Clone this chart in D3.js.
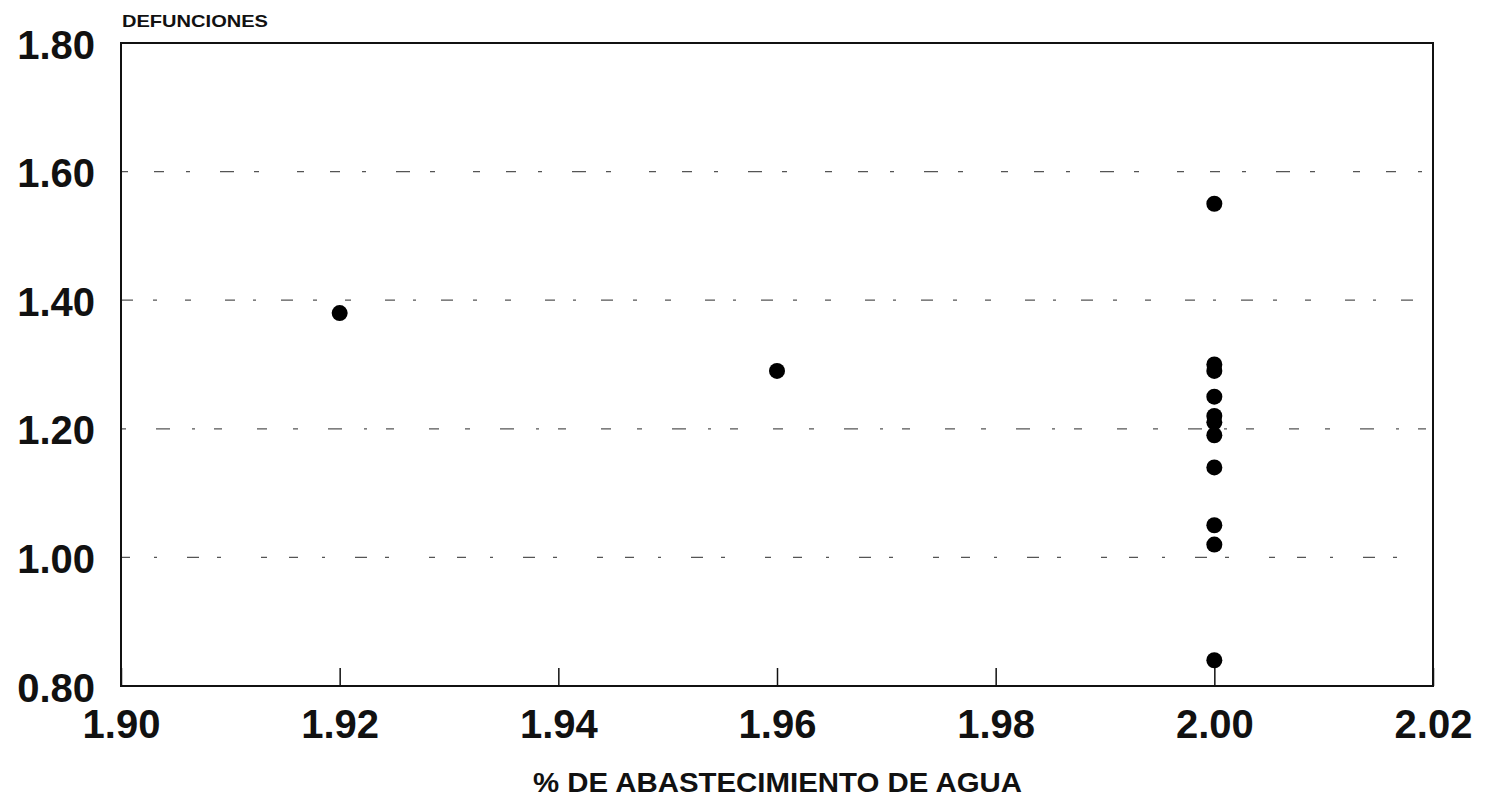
<!DOCTYPE html>
<html>
<head>
<meta charset="utf-8">
<script src="https://cdn.jsdelivr.net/npm/d3@7"></script>
<style>
html,body{margin:0;padding:0;background:#fff;}
svg{display:block;}
text{font-family:"Liberation Sans",Arial,sans-serif;font-weight:bold;fill:#111;}
</style>
</head>
<body>
<svg id="chart" width="1486" height="801"></svg>
<script>
// Data
const xValues = [1.92, 1.96, 2.00, 2.00, 2.00, 2.00, 2.00, 2.00, 2.00, 2.00, 2.00, 2.00, 2.00];
const yValues = [1.38, 1.29, 1.55, 1.30, 1.29, 1.25, 1.22, 1.21, 1.19, 1.14, 1.05, 1.02, 0.84];
const xTicks = [1.90, 1.92, 1.94, 1.96, 1.98, 2.00, 2.02];
const yTicks = [0.80, 1.00, 1.20, 1.40, 1.60, 1.80];
const gridValues = [1.00, 1.20, 1.40, 1.60];
const yTitle = "DEFUNCIONES";
const xTitle = "% DE ABASTECIMIENTO DE AGUA";

const svg = d3.select("#chart");
const m = {left:121, right:1433, top:43, bottom:686};

const x = d3.scaleLinear().domain([1.90, 2.02]).range([m.left, m.right]);
const y = d3.scaleLinear().domain([0.80, 1.80]).range([m.bottom, m.top]);

// gridlines
svg.append("g").selectAll("line").data(gridValues).join("line")
  .attr("x1", m.left).attr("x2", m.right)
  .attr("y1", d => y(d)).attr("y2", d => y(d))
  .attr("stroke", "#555").attr("stroke-width", 1.3)
  .attr("stroke-dasharray", (d,i) => ["9,24,3,30,12,18,4,40,6,22","5,30,14,22,3,19,8,35,10,26","12,20,4,28,6,34,10,18,3,25","7,26,10,22,4,30,14,20,5,38"][i % 4]);

// frame
svg.append("rect")
  .attr("x", m.left).attr("y", m.top)
  .attr("width", m.right - m.left).attr("height", m.bottom - m.top)
  .attr("fill", "none").attr("stroke", "#111").attr("stroke-width", 2);

// x axis (ticks inward)
const xAxis = d3.axisBottom(x).tickValues(xTicks).tickSize(-18).tickFormat(d3.format(".2f"));
const gx = svg.append("g").attr("transform", `translate(0,${m.bottom})`).call(xAxis);
gx.select(".domain").remove();
gx.selectAll(".tick line").attr("stroke", "#111").attr("stroke-width", 1.5);
gx.selectAll(".tick text").attr("font-size", 40).attr("font-family", "Liberation Sans, Arial, sans-serif")
  .attr("font-weight", "bold").attr("fill", "#111").attr("y", 52).attr("dy", 0);

// y axis labels
const yAxis = d3.axisLeft(y).tickValues(yTicks).tickSize(0).tickPadding(0).tickFormat(d3.format(".2f"));
const gy = svg.append("g").attr("transform", `translate(95,0)`).call(yAxis);
gy.select(".domain").remove();
gy.selectAll(".tick text").attr("font-size", 40).attr("font-family", "Liberation Sans, Arial, sans-serif")
  .attr("font-weight", "bold").attr("fill", "#111").attr("dy", 15).attr("x", 0);

// titles
svg.append("text").attr("x", 122).attr("y", 27).attr("font-size", 17)
  .attr("textLength", 146).attr("lengthAdjust", "spacingAndGlyphs").text(yTitle);
svg.append("text").attr("x", 533).attr("y", 792)
  .attr("font-size", 27).attr("textLength", 489).attr("lengthAdjust", "spacingAndGlyphs").text(xTitle);

// points
svg.append("g").selectAll("circle").data(xValues.map((d,i)=>[d, yValues[i]])).join("circle")
  .attr("cx", d => x(d[0])).attr("cy", d => y(d[1])).attr("r", 8).attr("fill", "#000");
</script>
</body>
</html>
